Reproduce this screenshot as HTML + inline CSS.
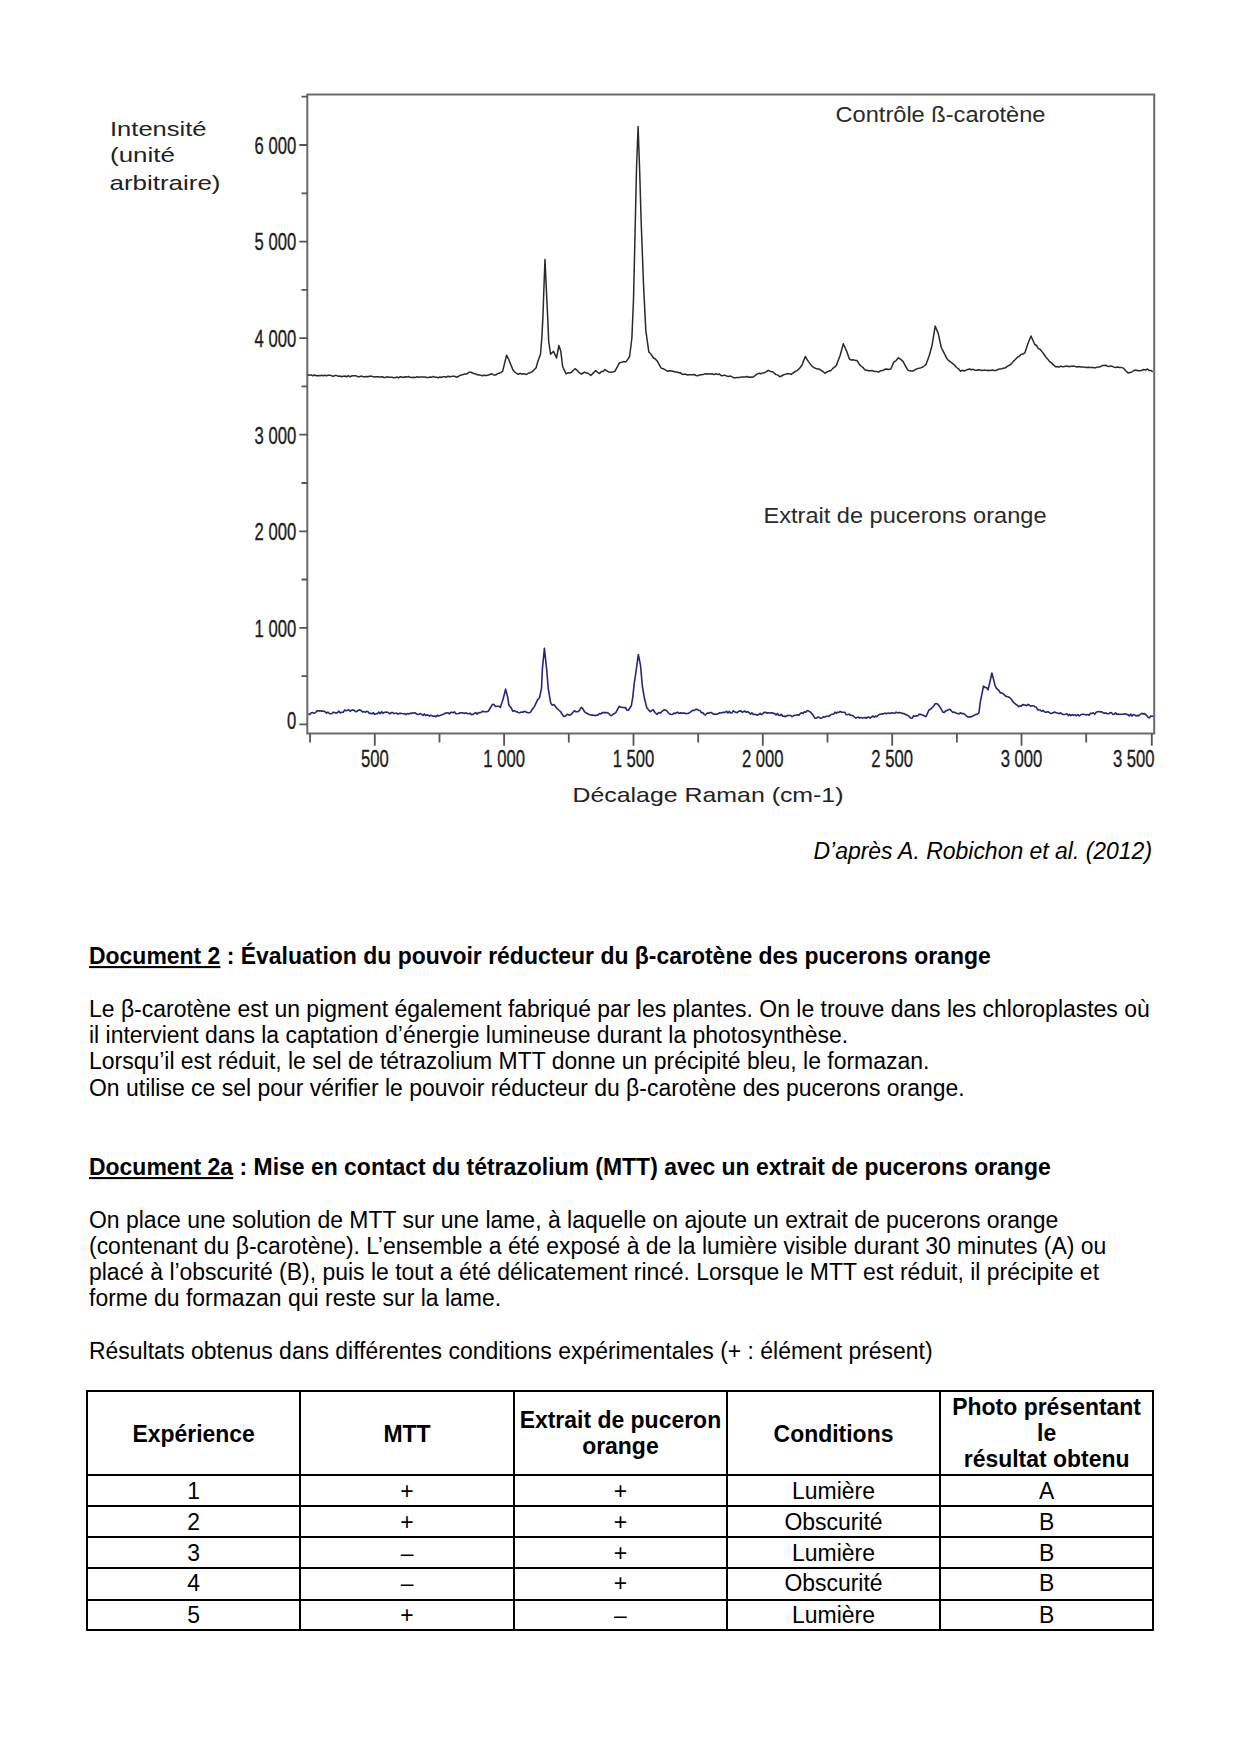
<!DOCTYPE html>
<html lang="fr">
<head>
<meta charset="utf-8">
<title>Document 2</title>
<style>
html,body{margin:0;padding:0;background:#fff;}
body{width:1240px;height:1754px;position:relative;overflow:hidden;font-family:"Liberation Sans",sans-serif;color:#000;}
/*CSS*/
.l{position:absolute;white-space:nowrap;font-size:22.96px;line-height:26.3px;transform:scaleY(1.03);transform-origin:0 21.11px;}
.c{position:absolute;text-align:center;white-space:nowrap;font-size:22.96px;line-height:26.3px;transform:scaleY(1.03);transform-origin:0 21.11px;}
.b{font-weight:bold;}
.u{text-decoration:underline;text-decoration-thickness:2.4px;text-underline-offset:2.3px;}
.k{position:absolute;background:#000;}
/*/CSS*/
#chart{position:absolute;left:0;top:0;}
</style>
</head>
<body>
<!--CHART-->
<svg id="chart" width="1240" height="830" viewBox="0 0 1240 830">
<path d="M307.3,94.5 H1154.2 V733.4 H307.3 Z" fill="none" stroke="#6a6a6a" stroke-width="2"/>
<path d="M299.3,724.4 H307.3 M299.3,627.8 H307.3 M299.3,531.3 H307.3 M299.3,434.7 H307.3 M299.3,338.1 H307.3 M299.3,241.6 H307.3 M299.3,145.0 H307.3 M301.5,676.1 H307.3 M301.5,579.5 H307.3 M301.5,483.0 H307.3 M301.5,386.4 H307.3 M301.5,289.8 H307.3 M301.5,193.3 H307.3 M301.5,96.7 H307.3 M374.8,733.4 V745.8 M504.1,733.4 V745.8 M633.5,733.4 V745.8 M762.8,733.4 V745.8 M892.2,733.4 V745.8 M1021.5,733.4 V745.8 M1151.8,733.4 V745.8 M310.1,733.4 V742.4 M439.5,733.4 V742.4 M568.8,733.4 V742.4 M698.2,733.4 V742.4 M827.5,733.4 V742.4 M956.9,733.4 V742.4 M1086.2,733.4 V742.4" stroke="#555" stroke-width="1.8" fill="none"/>
<path d="M307.5,375.3 L309.3,375.1 L311.1,375.0 L312.9,375.7 L314.6,375.0 L316.4,375.7 L318.2,375.5 L320.0,375.8 L321.7,375.2 L323.3,375.8 L325.0,375.2 L326.7,375.8 L328.3,375.3 L330.0,375.3 L331.7,375.8 L333.3,376.4 L335.0,375.4 L336.7,375.6 L338.3,376.2 L340.0,376.0 L341.7,376.7 L343.3,376.2 L345.0,376.0 L346.7,376.8 L348.3,375.6 L350.0,376.8 L351.7,376.0 L353.3,375.8 L355.0,375.8 L356.7,376.1 L358.3,376.9 L360.0,376.5 L361.6,376.1 L363.2,376.7 L364.8,376.8 L366.4,376.5 L368.0,376.8 L369.6,376.1 L371.2,376.2 L372.8,376.4 L374.4,377.1 L376.0,376.8 L377.6,376.7 L379.2,377.1 L380.8,377.0 L382.4,376.8 L384.0,377.5 L385.6,377.4 L387.2,376.8 L388.8,377.3 L390.4,377.3 L392.0,377.3 L393.6,377.8 L395.3,377.6 L396.9,377.0 L398.6,377.9 L400.2,376.7 L401.9,377.1 L403.5,377.5 L405.2,376.7 L406.8,377.1 L408.5,376.5 L410.1,377.3 L411.8,377.5 L413.4,377.2 L415.1,377.6 L416.7,376.8 L418.4,377.3 L420.0,377.0 L421.7,377.1 L423.3,377.1 L425.0,376.9 L426.7,377.5 L428.3,377.6 L430.0,377.0 L431.7,377.2 L433.3,376.4 L435.0,377.3 L436.7,377.2 L438.3,377.7 L440.0,377.0 L441.6,377.4 L443.2,376.7 L444.9,376.8 L446.5,377.2 L448.1,376.2 L449.7,376.8 L451.3,376.4 L452.9,376.3 L454.6,376.2 L456.2,377.2 L457.8,376.8 L459.6,375.6 L461.4,375.0 L463.2,374.5 L465.0,374.0 L467.0,373.9 L468.9,372.2 L470.9,372.2 L474.0,373.5 L476.2,374.2 L478.5,375.0 L480.3,375.1 L482.2,375.7 L484.0,375.2 L486.4,375.5 L488.7,375.0 L491.6,373.8 L493.6,374.9 L495.5,375.0 L497.3,373.9 L499.0,373.3 L500.8,372.6 L502.7,371.1 L504.2,364.8 L506.6,355.2 L509.0,360.0 L510.9,364.9 L512.9,369.7 L514.8,372.1 L516.8,373.5 L518.4,374.3 L520.0,373.3 L521.6,374.0 L523.2,373.7 L524.9,374.0 L526.5,374.5 L528.4,373.2 L530.4,372.5 L532.3,371.6 L534.2,369.8 L536.1,367.7 L538.0,361.0 L540.5,354.2 L541.9,336.8 L542.9,317.4 L543.9,288.4 L545.0,259.4 L546.3,288.4 L547.7,317.4 L548.7,341.6 L550.6,354.2 L553.5,351.3 L556.5,358.0 L558.9,345.5 L560.8,351.3 L562.7,366.8 L564.4,370.4 L566.1,374.0 L567.7,372.8 L569.4,373.0 L571.0,372.6 L573.1,370.5 L575.3,368.7 L577.4,370.6 L579.5,372.9 L581.6,374.0 L584.5,372.1 L586.5,373.1 L588.4,373.5 L590.8,375.5 L592.4,373.9 L594.0,372.4 L595.6,370.6 L597.6,372.3 L599.6,373.5 L601.4,371.6 L603.2,371.5 L605.0,369.6 L606.8,370.9 L608.6,371.9 L610.4,372.2 L612.7,372.1 L615.0,371.2 L617.3,366.9 L619.6,362.7 L621.7,362.3 L623.7,361.6 L625.8,361.9 L627.7,359.4 L629.6,356.5 L631.9,338.0 L633.5,299.6 L635.3,222.7 L636.5,168.8 L638.1,126.5 L639.6,168.8 L641.2,222.7 L643.5,284.2 L645.8,330.4 L648.8,351.9 L651.1,354.3 L653.5,358.0 L655.4,359.0 L657.3,361.2 L659.2,364.6 L661.2,368.1 L663.2,368.7 L665.3,369.9 L667.3,371.2 L669.2,370.8 L671.1,370.9 L673.1,371.3 L675.0,372.0 L676.8,371.9 L678.5,372.7 L680.3,372.6 L682.0,374.2 L683.8,374.3 L685.5,374.1 L687.3,375.0 L689.1,374.7 L690.8,374.8 L692.6,374.8 L694.3,374.5 L696.1,375.5 L697.8,375.7 L699.6,375.0 L701.3,374.8 L703.1,374.6 L704.8,373.9 L706.5,373.7 L708.3,373.9 L710.0,373.9 L711.9,373.7 L713.9,374.6 L715.8,373.8 L717.7,374.4 L719.5,374.1 L721.3,375.7 L723.0,375.4 L724.8,375.2 L726.6,376.1 L728.4,376.4 L730.2,376.0 L732.1,376.9 L733.9,377.7 L735.8,377.8 L737.6,377.5 L739.5,377.6 L741.4,376.9 L743.3,376.9 L745.2,377.0 L746.9,376.5 L748.6,377.3 L750.3,376.9 L752.0,377.2 L753.7,376.7 L755.6,375.1 L757.5,373.9 L759.3,373.2 L761.1,373.7 L762.9,372.9 L764.7,372.7 L766.4,371.7 L768.2,370.3 L770.5,371.5 L772.8,371.8 L774.5,373.5 L776.2,374.6 L778.0,375.1 L779.7,376.7 L781.5,376.0 L783.3,375.0 L785.1,374.4 L787.1,373.7 L789.2,373.7 L791.2,374.4 L793.2,372.8 L795.3,371.5 L797.3,370.6 L799.6,368.2 L801.9,365.2 L803.6,360.9 L805.3,356.5 L807.0,359.3 L808.8,362.1 L811.9,366.0 L813.6,367.4 L815.3,368.2 L817.1,368.9 L818.8,369.0 L820.8,370.2 L822.9,371.5 L824.9,373.3 L826.9,372.0 L829.0,371.1 L831.0,370.6 L832.8,368.4 L834.6,367.2 L836.4,365.2 L838.3,360.2 L840.2,355.2 L843.3,343.8 L846.4,350.6 L849.4,359.1 L851.3,360.0 L853.2,359.8 L855.2,360.4 L857.1,360.6 L859.0,363.7 L860.9,366.0 L862.8,367.3 L864.8,369.8 L866.7,370.2 L868.6,370.8 L870.5,370.8 L872.4,370.6 L874.5,371.5 L876.5,371.6 L878.6,372.1 L880.6,370.7 L882.7,370.6 L884.7,369.3 L886.7,369.0 L888.8,369.5 L890.8,369.0 L893.8,362.1 L896.1,360.6 L898.4,357.8 L900.7,359.4 L903.0,361.3 L905.3,365.6 L907.6,369.8 L909.4,370.8 L911.2,370.9 L913.0,371.0 L914.9,369.8 L916.8,368.9 L918.7,368.2 L920.6,367.9 L922.4,367.3 L924.2,366.0 L926.0,364.4 L929.1,356.0 L932.1,345.2 L935.2,326.1 L938.3,333.8 L941.3,347.5 L943.1,351.1 L944.9,354.7 L946.7,358.3 L948.7,360.7 L950.8,362.1 L952.8,363.6 L954.7,365.3 L956.6,367.5 L958.6,368.9 L960.5,371.3 L962.3,370.2 L964.2,371.0 L966.0,370.1 L967.9,369.5 L969.7,369.0 L971.4,369.8 L973.2,369.3 L974.9,370.2 L976.7,370.3 L978.4,369.7 L980.2,369.9 L981.9,370.5 L983.7,370.2 L985.4,370.1 L987.2,370.6 L988.9,370.2 L990.7,370.4 L992.4,370.0 L994.2,370.5 L996.0,370.6 L997.9,369.4 L999.7,369.1 L1001.6,368.8 L1003.4,368.2 L1005.4,367.8 L1007.5,366.1 L1009.5,365.2 L1011.4,363.9 L1013.4,361.4 L1015.3,359.5 L1017.2,357.5 L1019.1,356.4 L1021.0,354.5 L1022.9,354.0 L1024.8,352.9 L1027.9,343.7 L1031.0,336.0 L1032.9,340.2 L1034.8,344.5 L1036.5,345.5 L1038.2,348.4 L1040.0,349.2 L1041.7,351.4 L1043.6,353.8 L1045.6,356.7 L1047.5,358.9 L1049.4,361.3 L1051.4,362.9 L1053.5,364.9 L1055.5,366.7 L1057.2,366.8 L1059.0,367.1 L1060.7,366.1 L1062.5,366.7 L1064.2,366.6 L1065.8,366.2 L1067.4,366.1 L1069.1,366.7 L1070.7,366.3 L1072.3,366.3 L1073.9,366.1 L1075.5,366.6 L1077.1,367.0 L1078.8,366.5 L1080.4,366.9 L1082.0,366.9 L1083.6,367.1 L1085.2,367.2 L1086.8,367.5 L1088.4,367.3 L1090.0,367.5 L1091.6,367.5 L1093.2,367.6 L1095.0,367.9 L1096.8,367.2 L1098.6,367.1 L1100.4,366.8 L1102.2,365.5 L1104.0,365.6 L1105.8,365.2 L1107.4,366.2 L1109.0,366.5 L1110.7,365.9 L1112.3,366.3 L1113.9,367.1 L1115.5,367.6 L1117.5,367.1 L1119.4,367.5 L1121.3,367.4 L1123.3,368.1 L1125.7,370.7 L1128.1,372.9 L1130.0,372.5 L1132.0,371.9 L1133.9,370.5 L1135.8,370.0 L1137.8,370.8 L1139.7,370.7 L1141.6,370.5 L1143.5,369.5 L1145.5,370.0 L1147.4,369.0 L1149.2,370.6 L1151.0,370.5 L1152.8,371.9" fill="none" stroke="#2a2a2a" stroke-width="1.5" stroke-linejoin="round"/>
<path d="M308.4,713.8 L309.8,714.4 L311.3,712.8 L312.7,712.6 L314.1,713.3 L315.6,712.6 L317.0,710.7 L318.5,710.9 L319.9,710.7 L321.2,711.1 L322.6,711.1 L323.9,711.2 L325.2,711.9 L326.6,713.1 L327.9,712.0 L329.3,713.5 L330.6,713.8 L332.0,713.4 L333.4,712.2 L334.8,712.6 L336.2,712.9 L337.6,712.4 L339.0,711.2 L340.4,712.9 L341.8,712.2 L343.2,712.3 L344.6,710.1 L346.0,710.7 L347.4,710.2 L348.8,709.7 L350.2,711.3 L351.6,710.2 L353.0,709.9 L354.3,710.5 L355.7,711.6 L357.1,711.4 L358.5,710.2 L359.9,709.9 L361.3,710.7 L362.6,712.0 L364.0,711.6 L365.3,712.3 L366.6,711.3 L368.0,711.7 L369.3,713.4 L370.7,713.2 L372.0,713.8 L373.4,712.7 L374.8,714.4 L376.1,713.6 L377.5,713.8 L378.9,712.1 L380.3,713.6 L381.7,711.7 L383.0,713.3 L384.4,712.3 L385.8,712.2 L387.2,712.1 L388.5,712.8 L389.9,713.8 L391.2,712.6 L392.6,712.5 L393.9,713.6 L395.3,713.2 L396.6,713.1 L398.0,714.2 L399.3,713.4 L400.6,713.2 L402.0,713.5 L403.3,713.7 L404.6,713.6 L405.9,714.6 L407.2,713.5 L408.6,714.0 L409.9,713.2 L411.2,713.6 L412.5,712.8 L413.9,713.3 L415.2,712.8 L416.5,713.8 L417.8,714.5 L419.1,714.2 L420.4,713.6 L421.7,714.4 L423.0,715.5 L424.3,713.9 L425.6,715.6 L427.0,714.9 L428.3,715.2 L429.6,716.1 L430.9,715.3 L432.2,715.7 L433.5,716.3 L434.8,716.0 L436.1,716.8 L437.4,715.2 L438.7,716.0 L440.1,715.5 L441.4,715.1 L442.7,714.4 L444.0,714.0 L445.3,713.1 L446.6,713.1 L447.9,712.7 L449.3,713.9 L450.6,712.6 L451.9,712.2 L453.2,712.7 L454.6,711.9 L456.0,713.7 L457.4,713.8 L458.8,713.5 L460.2,712.7 L461.6,712.7 L463.0,712.9 L464.4,713.4 L465.8,712.8 L467.2,713.6 L468.6,713.8 L470.0,713.2 L471.5,714.6 L472.9,714.5 L474.3,713.4 L475.7,712.6 L477.1,714.1 L478.6,712.5 L480.0,712.8 L481.4,712.2 L482.7,711.2 L484.1,711.8 L485.5,711.7 L486.8,711.6 L488.2,711.3 L489.6,709.0 L491.0,706.8 L492.4,704.5 L493.9,704.4 L495.5,706.5 L497.1,706.3 L498.7,706.2 L500.3,707.4 L501.8,703.0 L503.2,698.7 L505.6,689.1 L507.6,696.8 L509.0,705.5 L510.9,707.4 L512.9,711.3 L514.4,710.6 L515.8,711.6 L517.2,711.8 L518.7,712.8 L520.2,712.6 L521.6,712.1 L523.0,712.2 L524.5,711.3 L526.1,712.1 L527.8,712.8 L529.4,712.8 L531.0,711.7 L532.6,708.7 L534.2,707.0 L535.9,703.4 L537.6,699.7 L539.5,697.8 L541.5,688.1 L542.4,668.7 L544.4,648.4 L546.8,670.7 L548.2,688.1 L550.7,703.1 L552.3,705.3 L553.9,704.6 L555.5,706.5 L557.1,708.6 L558.7,710.0 L560.3,711.3 L562.0,714.0 L563.7,716.6 L565.4,716.1 L567.1,714.2 L569.5,715.2 L571.1,714.6 L572.8,712.5 L574.4,710.8 L576.0,711.8 L577.7,711.8 L579.5,710.3 L581.2,707.4 L582.6,708.4 L584.1,711.1 L585.5,712.8 L587.0,713.2 L588.4,714.3 L589.9,714.7 L591.3,715.1 L592.8,715.0 L594.2,715.2 L595.5,715.8 L596.8,715.1 L598.2,714.9 L599.5,713.6 L600.8,714.0 L602.2,712.6 L603.7,712.5 L605.1,712.6 L606.6,712.6 L608.5,713.2 L610.5,715.5 L611.8,715.5 L613.1,714.2 L614.5,713.6 L615.8,712.6 L617.5,709.5 L619.2,706.3 L620.8,707.2 L622.4,707.3 L624.0,707.8 L625.5,707.5 L626.9,710.1 L628.4,710.2 L629.8,708.0 L631.3,705.8 L632.8,697.1 L634.2,683.6 L636.1,671.0 L638.3,654.5 L640.5,665.2 L642.4,686.5 L644.4,698.1 L646.8,707.8 L648.5,709.7 L650.2,711.6 L651.7,710.7 L653.1,709.7 L655.0,712.5 L657.0,714.5 L658.6,712.6 L660.2,713.1 L661.8,711.6 L663.1,710.6 L664.4,709.7 L665.7,710.2 L667.2,711.1 L668.6,713.1 L670.5,714.3 L672.4,714.5 L674.0,713.1 L675.7,713.4 L677.3,712.1 L678.9,713.5 L680.5,712.8 L682.1,713.1 L683.7,713.0 L685.4,713.4 L687.0,713.6 L688.5,713.2 L689.9,712.5 L691.3,711.3 L692.8,710.2 L694.2,710.5 L695.7,709.3 L697.1,709.4 L698.6,710.2 L700.0,710.6 L701.3,712.7 L702.7,712.6 L704.0,714.2 L705.4,715.0 L707.3,713.0 L709.2,713.1 L710.7,712.4 L712.1,713.0 L713.5,714.2 L715.0,714.0 L716.5,714.2 L717.9,713.9 L719.4,712.8 L720.9,713.0 L722.4,712.6 L723.8,712.4 L725.3,712.2 L726.6,711.3 L727.9,713.0 L729.2,711.4 L730.6,713.0 L731.9,712.9 L733.2,710.8 L734.5,711.7 L735.8,712.4 L737.1,712.7 L738.4,711.5 L739.8,711.1 L741.1,710.9 L742.4,712.4 L743.7,711.4 L745.1,711.1 L746.4,712.3 L747.8,711.6 L749.2,712.8 L750.5,714.1 L751.9,712.7 L753.3,714.5 L754.6,714.2 L756.0,714.5 L757.4,715.2 L758.7,714.6 L760.1,713.4 L761.4,714.7 L762.8,713.6 L764.1,712.4 L765.5,712.2 L766.8,713.1 L768.2,712.9 L769.5,713.0 L770.8,712.9 L772.1,712.8 L773.5,713.4 L774.8,713.6 L776.1,715.0 L777.4,713.4 L778.7,715.2 L780.0,715.6 L781.3,714.3 L782.7,716.3 L784.0,716.0 L785.3,716.7 L786.6,716.0 L788.0,715.4 L789.3,715.5 L790.7,715.5 L792.1,716.7 L793.4,715.8 L794.8,715.2 L796.2,715.2 L797.5,714.8 L798.9,715.2 L800.3,713.4 L801.7,712.8 L803.1,713.6 L804.5,711.7 L805.9,712.3 L807.3,710.6 L809.2,711.2 L811.1,712.9 L813.0,715.1 L815.0,718.3 L816.4,718.1 L817.8,717.1 L819.2,717.3 L820.6,718.3 L822.0,717.9 L823.4,716.8 L824.9,717.0 L826.5,716.2 L828.0,716.3 L829.6,715.9 L831.1,714.5 L832.4,714.2 L833.7,714.1 L835.0,712.2 L836.3,713.2 L837.6,712.2 L838.9,712.4 L840.2,711.4 L841.7,712.3 L843.3,712.2 L844.8,712.3 L846.4,714.8 L847.9,714.5 L849.2,714.1 L850.5,715.3 L851.8,715.4 L853.2,715.8 L854.5,717.2 L855.8,718.1 L857.1,717.5 L858.4,717.1 L859.7,718.1 L861.0,717.4 L862.4,718.1 L863.7,717.8 L865.0,717.5 L866.3,718.3 L867.6,717.2 L868.9,717.0 L870.2,718.2 L871.6,717.0 L872.9,716.0 L874.2,717.2 L875.5,716.0 L876.8,716.8 L878.2,715.3 L879.5,714.3 L880.9,714.2 L882.2,713.7 L883.5,713.9 L884.9,713.1 L886.2,713.7 L888.1,713.1 L890.0,713.6 L891.5,712.7 L893.0,713.0 L894.6,713.3 L896.1,712.1 L897.6,712.9 L899.2,712.5 L900.7,712.8 L902.3,713.4 L903.8,713.6 L905.2,714.2 L906.6,715.0 L907.9,715.2 L909.3,716.6 L910.7,717.9 L912.1,718.3 L913.5,715.9 L914.9,716.2 L916.3,715.9 L917.7,715.8 L919.1,714.4 L920.5,714.2 L921.9,714.8 L923.2,715.2 L924.6,716.0 L926.0,716.7 L927.5,713.2 L929.1,709.8 L930.6,709.3 L932.2,707.5 L933.7,706.0 L935.2,703.7 L936.7,703.6 L938.3,704.7 L939.8,706.7 L941.3,709.4 L942.9,712.1 L944.2,712.4 L945.5,710.9 L946.9,710.6 L948.2,709.8 L949.8,709.3 L951.3,710.7 L952.9,712.5 L954.4,712.1 L955.9,713.1 L957.4,713.5 L959.0,714.0 L960.5,712.7 L962.0,713.6 L963.5,713.6 L965.0,714.5 L966.6,716.2 L968.1,717.0 L969.6,716.9 L971.2,716.9 L972.7,715.9 L974.3,715.2 L975.8,714.4 L977.3,714.2 L978.9,712.9 L980.4,701.4 L982.0,693.7 L983.5,686.0 L985.0,687.4 L986.6,687.6 L988.1,689.9 L990.0,681.5 L991.9,673.0 L993.5,679.1 L995.0,685.3 L996.3,688.1 L997.6,689.4 L999.0,690.6 L1000.3,692.9 L1001.8,692.9 L1003.4,693.9 L1004.9,695.5 L1006.5,696.5 L1008.0,696.8 L1009.5,697.5 L1011.1,698.9 L1012.6,701.4 L1014.1,702.8 L1015.7,704.2 L1017.2,705.1 L1018.7,706.7 L1020.0,705.8 L1021.3,706.3 L1022.6,704.6 L1024.0,704.9 L1025.3,705.0 L1026.6,705.7 L1027.9,704.4 L1029.3,705.2 L1030.7,706.2 L1032.0,705.7 L1033.4,705.7 L1034.8,706.7 L1036.2,707.1 L1037.6,709.6 L1038.9,709.9 L1040.3,710.0 L1041.7,711.3 L1043.0,710.4 L1044.4,711.7 L1045.7,712.3 L1047.1,711.9 L1048.4,711.8 L1049.7,712.9 L1051.1,713.6 L1052.4,712.9 L1053.7,712.4 L1055.0,712.1 L1056.3,712.8 L1057.7,713.1 L1059.0,713.8 L1060.3,712.8 L1061.6,713.6 L1062.9,714.5 L1064.3,714.5 L1065.6,714.2 L1066.9,713.8 L1068.3,715.6 L1069.6,714.4 L1070.9,715.7 L1072.3,714.6 L1073.6,715.4 L1075.0,714.7 L1076.4,715.8 L1077.8,714.7 L1079.2,716.0 L1080.7,714.9 L1082.1,714.2 L1083.5,714.2 L1084.9,714.5 L1086.3,715.0 L1087.7,714.5 L1089.1,715.2 L1090.5,713.2 L1092.0,713.5 L1093.4,712.8 L1094.8,714.2 L1096.2,712.2 L1097.6,711.7 L1099.1,711.5 L1100.5,711.9 L1101.9,711.9 L1103.3,713.0 L1104.6,713.1 L1106.0,713.0 L1107.4,713.8 L1108.7,713.8 L1110.1,712.7 L1111.5,712.6 L1112.9,714.5 L1114.2,714.2 L1115.6,712.9 L1117.0,714.5 L1118.3,714.0 L1119.7,714.5 L1121.1,714.3 L1122.4,714.3 L1123.8,714.0 L1125.1,713.7 L1126.5,714.4 L1127.9,714.6 L1129.2,716.0 L1130.6,714.2 L1132.0,716.1 L1133.3,714.5 L1134.7,714.9 L1136.0,716.0 L1137.4,715.4 L1138.8,715.7 L1140.2,714.5 L1141.7,713.3 L1143.1,713.9 L1144.5,713.6 L1146.3,715.1 L1148.1,717.2 L1149.4,717.9 L1150.8,716.1 L1152.1,716.2 L1153.4,716.3" fill="none" stroke="#26267e" stroke-width="1.6" stroke-linejoin="round"/>
<g font-family="Liberation Sans, sans-serif" font-size="23.8" fill="#1c1c1c" stroke="#1c1c1c" stroke-width="0.35"><text transform="translate(296.3,728.7) scale(0.70,1)" text-anchor="end">0</text><text transform="translate(296.3,636.6) scale(0.70,1)" text-anchor="end">1 000</text><text transform="translate(296.3,540.1) scale(0.70,1)" text-anchor="end">2 000</text><text transform="translate(296.3,443.5) scale(0.70,1)" text-anchor="end">3 000</text><text transform="translate(296.3,346.9) scale(0.70,1)" text-anchor="end">4 000</text><text transform="translate(296.3,250.4) scale(0.70,1)" text-anchor="end">5 000</text><text transform="translate(296.3,153.8) scale(0.70,1)" text-anchor="end">6 000</text><text transform="translate(374.8,766.5) scale(0.70,1)" text-anchor="middle">500</text><text transform="translate(504.1,766.5) scale(0.70,1)" text-anchor="middle">1 000</text><text transform="translate(633.5,766.5) scale(0.70,1)" text-anchor="middle">1 500</text><text transform="translate(762.8,766.5) scale(0.70,1)" text-anchor="middle">2 000</text><text transform="translate(892.2,766.5) scale(0.70,1)" text-anchor="middle">2 500</text><text transform="translate(1021.5,766.5) scale(0.70,1)" text-anchor="middle">3 000</text><text transform="translate(1154.6,766.5) scale(0.70,1)" text-anchor="end">3 500</text></g>
<g font-family="Liberation Sans, sans-serif" font-size="21" fill="#222"><text x="110" y="135.7" textLength="96.5" lengthAdjust="spacingAndGlyphs">Intensité</text><text x="110" y="162.4" textLength="65" lengthAdjust="spacingAndGlyphs">(unité</text><text x="109.5" y="189.7" textLength="111" lengthAdjust="spacingAndGlyphs">arbitraire)</text><text x="572.5" y="801.6" textLength="271" lengthAdjust="spacingAndGlyphs">Décalage Raman (cm-1)</text></g>
<g font-family="Liberation Sans, sans-serif" font-size="21.5" fill="#2a2a2a"><text x="835.5" y="121.5" textLength="210" lengthAdjust="spacingAndGlyphs">Contrôle ß-carotène</text><text x="763.5" y="522.5" textLength="283" lengthAdjust="spacingAndGlyphs">Extrait de pucerons orange</text></g>
</svg>
<!--/CHART-->

<!--TEXT-->
<div class="l" style="left:813.5px;top:838.09px;font-style:italic;">D’après A. Robichon et al. (2012)</div>
<div class="l b" style="left:89px;top:942.59px;"><span class="u">Document 2</span> : Évaluation du pouvoir réducteur du β-carotène des pucerons orange</div>
<div class="l" style="left:89px;top:995.79px;">Le β-carotène est un pigment également fabriqué par les plantes. On le trouve dans les chloroplastes où</div>
<div class="l" style="left:89px;top:1022.09px;">il intervient dans la captation d’énergie lumineuse durant la photosynthèse.</div>
<div class="l" style="left:89px;top:1048.39px;">Lorsqu’il est réduit, le sel de tétrazolium MTT donne un précipité bleu, le formazan.</div>
<div class="l" style="left:89px;top:1074.69px;">On utilise ce sel pour vérifier le pouvoir réducteur du β-carotène des pucerons orange.</div>
<div class="l b" style="left:89px;top:1153.69px;"><span class="u">Document 2a</span> : Mise en contact du tétrazolium (MTT) avec un extrait de pucerons orange</div>
<div class="l" style="left:89px;top:1206.59px;">On place une solution de MTT sur une lame, à laquelle on ajoute un extrait de pucerons orange</div>
<div class="l" style="left:89px;top:1232.89px;">(contenant du β-carotène). L’ensemble a été exposé à de la lumière visible durant 30 minutes (A) ou</div>
<div class="l" style="left:89px;top:1259.19px;">placé à l’obscurité (B), puis le tout a été délicatement rincé. Lorsque le MTT est réduit, il précipite et</div>
<div class="l" style="left:89px;top:1285.49px;">forme du formazan qui reste sur la lame.</div>
<div class="l" style="left:89px;top:1337.79px;">Résultats obtenus dans différentes conditions expérimentales (+ : élément présent)</div>
<div class="c b" style="left:87.0px;width:213.3px;top:1420.69px;">Expérience</div>
<div class="c b" style="left:300.3px;width:213.5px;top:1420.69px;">MTT</div>
<div class="c b" style="left:513.8px;width:213.2px;top:1406.79px;">Extrait de puceron</div>
<div class="c b" style="left:513.8px;width:213.2px;top:1432.99px;">orange</div>
<div class="c b" style="left:727.0px;width:213.0px;top:1420.69px;">Conditions</div>
<div class="c b" style="left:940.0px;width:213.3px;top:1393.59px;">Photo présentant</div>
<div class="c b" style="left:940.0px;width:213.3px;top:1419.89px;">le</div>
<div class="c b" style="left:940.0px;width:213.3px;top:1446.19px;">résultat obtenu</div>
<div class="c" style="left:87.0px;width:213.3px;top:1477.59px;">1</div>
<div class="c" style="left:300.3px;width:213.5px;top:1477.59px;">+</div>
<div class="c" style="left:513.8px;width:213.2px;top:1477.59px;">+</div>
<div class="c" style="left:727.0px;width:213.0px;top:1477.59px;">Lumière</div>
<div class="c" style="left:940.0px;width:213.3px;top:1477.59px;">A</div>
<div class="c" style="left:87.0px;width:213.3px;top:1508.59px;">2</div>
<div class="c" style="left:300.3px;width:213.5px;top:1508.59px;">+</div>
<div class="c" style="left:513.8px;width:213.2px;top:1508.59px;">+</div>
<div class="c" style="left:727.0px;width:213.0px;top:1508.59px;">Obscurité</div>
<div class="c" style="left:940.0px;width:213.3px;top:1508.59px;">B</div>
<div class="c" style="left:87.0px;width:213.3px;top:1539.89px;">3</div>
<div class="c" style="left:300.3px;width:213.5px;top:1539.89px;">–</div>
<div class="c" style="left:513.8px;width:213.2px;top:1539.89px;">+</div>
<div class="c" style="left:727.0px;width:213.0px;top:1539.89px;">Lumière</div>
<div class="c" style="left:940.0px;width:213.3px;top:1539.89px;">B</div>
<div class="c" style="left:87.0px;width:213.3px;top:1570.49px;">4</div>
<div class="c" style="left:300.3px;width:213.5px;top:1570.49px;">–</div>
<div class="c" style="left:513.8px;width:213.2px;top:1570.49px;">+</div>
<div class="c" style="left:727.0px;width:213.0px;top:1570.49px;">Obscurité</div>
<div class="c" style="left:940.0px;width:213.3px;top:1570.49px;">B</div>
<div class="c" style="left:87.0px;width:213.3px;top:1601.79px;">5</div>
<div class="c" style="left:300.3px;width:213.5px;top:1601.79px;">+</div>
<div class="c" style="left:513.8px;width:213.2px;top:1601.79px;">–</div>
<div class="c" style="left:727.0px;width:213.0px;top:1601.79px;">Lumière</div>
<div class="c" style="left:940.0px;width:213.3px;top:1601.79px;">B</div>
<div class="k" style="left:86.35px;width:1067.90px;top:1390.15px;height:1.9px;"></div>
<div class="k" style="left:86.35px;width:1067.90px;top:1473.85px;height:1.9px;"></div>
<div class="k" style="left:86.35px;width:1067.90px;top:1504.85px;height:1.9px;"></div>
<div class="k" style="left:86.35px;width:1067.90px;top:1536.05px;height:1.9px;"></div>
<div class="k" style="left:86.35px;width:1067.90px;top:1567.35px;height:1.9px;"></div>
<div class="k" style="left:86.35px;width:1067.90px;top:1598.65px;height:1.9px;"></div>
<div class="k" style="left:86.35px;width:1067.90px;top:1629.25px;height:1.9px;"></div>
<div class="k" style="left:86.35px;width:1.9px;top:1390.15px;height:241.00px;"></div>
<div class="k" style="left:299.35px;width:1.9px;top:1390.15px;height:241.00px;"></div>
<div class="k" style="left:512.85px;width:1.9px;top:1390.15px;height:241.00px;"></div>
<div class="k" style="left:726.05px;width:1.9px;top:1390.15px;height:241.00px;"></div>
<div class="k" style="left:939.15px;width:1.9px;top:1390.15px;height:241.00px;"></div>
<div class="k" style="left:1152.35px;width:1.9px;top:1390.15px;height:241.00px;"></div>
<!--/TEXT-->
</body>
</html>
